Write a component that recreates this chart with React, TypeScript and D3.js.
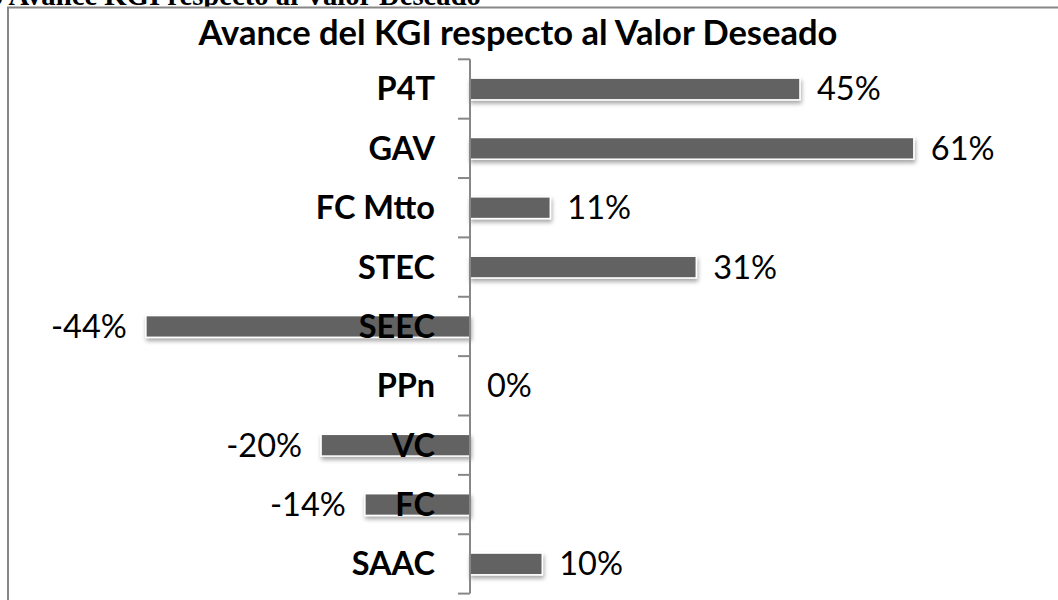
import React from "react";
import * as d3 from "d3";

const categories = ["P4T", "GAV", "FC Mtto", "STEC", "SEEC", "PPn", "VC", "FC", "SAAC"];
const values = [0.452, 0.608, 0.11, 0.31, -0.444, 0, -0.204, -0.144, 0.099];
const chartTitle = "Avance del KGI respecto al Valor Deseado";
const captionText = "5 Avance KGI respecto al Valor Deseado";

const W = 1058;
const H = 600;
const FONT = "Lato, 'Open Sans', sans-serif";

export default function App() {
  const x = d3.scaleLinear().domain([-0.5, 0.7]).range([105, 981]);
  const y = d3
    .scaleBand<string>()
    .domain(categories)
    .range([59.3, 593.6])
    .paddingInner(0.634)
    .paddingOuter(0.317);
  const x0 = x(0);
  const step = y.step();
  const tickYs = d3.range(categories.length + 1).map((i) => 59.3 + i * step);
  const fmt = (v: number) => `${Math.round(v * 100)}%`;

  return (
    <svg
      width={W}
      height={H}
      style={{ position: "absolute", left: 0, top: 0, background: "#fff" }}
      fontFamily={FONT}
    >
      <defs>
        <filter id="shadow" x="-10%" y="-40%" width="120%" height="200%">
          <feDropShadow dx="1" dy="3" stdDeviation="2" floodColor="#000" floodOpacity="0.35" />
        </filter>
      </defs>
      <text
        x={-11.5}
        y={4.5}
        fontFamily="'Liberation Serif', 'DejaVu Serif', serif"
        fontWeight="bold"
        fontSize={28.7}
        fill="#000"
      >
        {captionText}
      </text>
      <rect x={8} y={7.5} width={W} height={H} fill="#fff" />
      <path d={`M8,${H + 5} V7.5 H${W + 5}`} fill="none" stroke="#878787" strokeWidth={2} />
      <text x={518} y={45} textAnchor="middle" fontWeight="bold" fontSize={34.5} fill="#000">
        {chartTitle}
      </text>
      {categories.map((c, i) => {
        const v = values[i];
        const xa = Math.min(x(v), x0);
        const w = Math.abs(x(v) - x0);
        return w > 0 ? (
          <rect
            key={c}
            x={xa}
            y={y(c)}
            width={w}
            height={y.bandwidth()}
            fill="#626262"
            stroke="#fff"
            strokeWidth={1.5}
            filter="url(#shadow)"
          />
        ) : null;
      })}
      <line x1={x0} x2={x0} y1={tickYs[0]} y2={tickYs[tickYs.length - 1]} stroke="#878787" strokeWidth={2} />
      {tickYs.map((t, i) => (
        <line key={i} x1={x0 - 12} x2={x0} y1={t} y2={t} stroke="#878787" strokeWidth={2} />
      ))}
      {categories.map((c) => (
        <text
          key={c}
          x={435}
          y={(y(c) as number) + y.bandwidth() / 2 + 11.5}
          textAnchor="end"
          fontWeight="bold"
          fontSize={32.5}
          fill="#000"
        >
          {c}
        </text>
      ))}
      {categories.map((c, i) => {
        const v = values[i];
        const neg = v < 0;
        return (
          <text
            key={c}
            x={neg ? x(v) - 19 : x(v) + 17}
            y={(y(c) as number) + y.bandwidth() / 2 + 11.5}
            textAnchor={neg ? "end" : "start"}
            fontSize={32.5}
            fill="#000"
          >
            {fmt(v)}
          </text>
        );
      })}
    </svg>
  );
}
